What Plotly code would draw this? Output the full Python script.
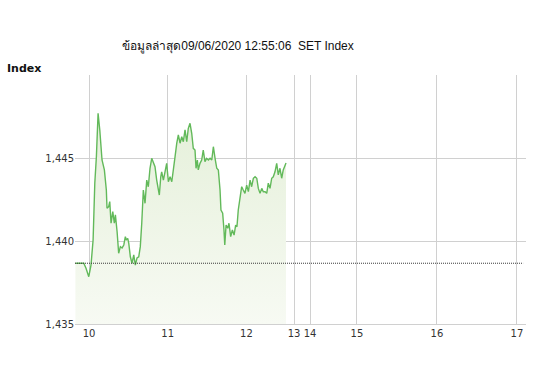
import plotly.graph_objects as go

# minutes after 10:00 (morning session) and SET Index values
minutes = [-10.4, -4.0, -2.3, -0.2, 1.5, 3.1, 4.4, 5.6, 6.9, 8.2, 9.9, 11.7, 13.2, 13.7,
           15.0, 15.8, 16.8, 18.1, 19.3, 20.1, 21.4, 22.6, 23.9, 25.2, 26.5, 27.7, 28.4,
           29.5, 30.3, 31.5, 32.8, 34.1, 35.3, 36.6, 37.9, 39.1, 40.2, 41.4, 42.7, 44.0,
           45.2, 46.5, 47.8, 49.0, 50.3, 51.6, 52.8, 53.6, 54.7, 55.4, 56.7, 57.9, 59.2,
           60.5, 61.8, 63.1, 64.3, 65.6, 66.9, 68.1, 69.4, 70.7, 71.9, 73.2, 74.5, 75.7,
           77.0, 78.3, 79.5, 80.8, 81.6, 82.6, 83.3, 84.6, 85.9, 87.1, 88.4, 89.7, 91.0,
           92.3, 93.6, 94.8, 96.1, 97.4, 98.6, 99.9, 100.6, 101.9, 102.9, 103.5, 104.5,
           105.8, 106.7, 108.0, 109.3, 110.6, 111.8, 112.8, 113.8, 115.1, 116.4, 117.6,
           118.9, 120.2, 121.5, 122.8, 124.0, 125.3, 126.6, 127.9, 129.1, 130.4, 131.7,
           132.9, 134.2, 135.5, 136.7, 138.0, 139.3, 140.5, 141.8, 143.1, 144.3, 145.6,
           146.9, 148.1, 149.4, 150.2]
index_values = [1438.66, 1438.66, 1438.36, 1437.85, 1438.55, 1440.06, 1443.48, 1445.08,
                1447.69, 1446.69, 1444.88, 1444.28, 1443.07, 1441.97, 1442.07, 1442.37,
                1441.07, 1441.77, 1441.07, 1441.57, 1440.56, 1439.26, 1439.66, 1439.58,
                1439.76, 1440.26, 1440.06, 1440.16, 1439.86, 1439.05, 1438.66, 1439.16,
                1438.55, 1438.98, 1439.05, 1439.66, 1441.07, 1443.07, 1442.27, 1443.67,
                1443.27, 1444.38, 1444.98, 1444.68, 1444.48, 1443.67, 1443.17, 1442.77,
                1443.87, 1444.17, 1443.67, 1444.28, 1444.68, 1443.57, 1443.87, 1443.57,
                1444.48, 1445.08, 1445.89, 1446.39, 1445.89, 1446.28, 1445.98, 1446.69,
                1445.98, 1446.79, 1447.09, 1446.49, 1445.58, 1445.48, 1444.38, 1444.88,
                1444.28, 1444.68, 1444.88, 1445.48, 1444.78, 1444.98, 1444.88, 1444.98,
                1444.88, 1445.68, 1444.98, 1444.38, 1444.28, 1443.07, 1441.87, 1441.67,
                1440.66, 1439.76, 1440.96, 1440.77, 1441.07, 1440.26, 1440.66, 1440.36,
                1440.96, 1440.86, 1441.87, 1442.47, 1443.27, 1443.07, 1442.87, 1443.37,
                1442.97, 1443.67, 1443.27, 1443.78, 1443.87, 1443.78, 1443.17, 1442.87,
                1443.17, 1442.97, 1442.97, 1442.87, 1443.48, 1443.17, 1443.78, 1443.87,
                1444.17, 1444.68, 1443.98, 1444.38, 1443.78, 1444.28, 1444.58, 1444.70]
prev_close = 1438.66

tick_labels = ["10", "11", "12", "13", "14", "15", "16", "17"]
tick_positions = [0, 60, 120, 156.3, 168.5, 204.3, 265.3, 326.3]
y_ticks = [1435, 1440, 1445, 1450]
y_range = [1435, 1450]
x_range = [-10.7, 333.2]

title_text = "ข้อมูลล่าสุด09/06/2020 12:55:06  SET Index"

fig = go.Figure()

# baseline for fill
fig.add_trace(go.Scatter(x=[minutes[0], minutes[-1]], y=[y_range[0], y_range[0]],
                         mode="lines", line=dict(width=0), hoverinfo="skip",
                         showlegend=False))
fig.add_trace(go.Scatter(
    x=minutes, y=index_values, mode="lines",
    line=dict(color="#62b95a", width=1.4),
    fill="tonexty",
    fillgradient=dict(type="vertical",
                      colorscale=[[0, "rgba(247,250,243,1)"], [1, "rgba(229,240,218,1)"]]),
    showlegend=False))

fig.add_trace(go.Scatter(x=[x_range[0], 331], y=[prev_close, prev_close], mode="lines",
                         line=dict(color="#3a3a3a", width=1, dash="1px,1px"),
                         hoverinfo="skip", showlegend=False))

fig.update_layout(
    width=548, height=365,
    margin=dict(l=75, r=22, t=75, b=41),
    paper_bgcolor="white", plot_bgcolor="white",
    font=dict(family="DejaVu Sans", size=10, color="#333333"),
    title=dict(text=title_text, x=238 / 548, xref="container", xanchor="center",
               yref="container", y=1 - 46 / 365, yanchor="middle",
               font=dict(family="Liberation Sans, Noto Sans, sans-serif", size=12,
                         color="#111111")),
    xaxis=dict(range=x_range, tickmode="array", tickvals=tick_positions,
               ticktext=tick_labels, showgrid=True, gridcolor="#d0d0d0", gridwidth=1,
               zeroline=False, showline=True, linecolor="#d0d0d0", ticks="",
               tickfont=dict(size=10, color="#333333")),
    yaxis=dict(range=y_range, tickmode="array", tickvals=y_ticks,
               ticktext=["1,435", "1,440", "1,445", ""], showgrid=True,
               gridcolor="#d0d0d0", gridwidth=1, zeroline=False, showline=False,
               ticks="", tickfont=dict(size=10, color="#333333")),
    annotations=[dict(text="<b>Index</b>", xref="paper", yref="paper", x=-70 / 451,
                      xanchor="left", y=(324 - 68) / 249, yanchor="middle",
                      showarrow=False,
                      font=dict(family="DejaVu Sans", size=11, color="#111111"))],
)

fig.write_html("out.html")
